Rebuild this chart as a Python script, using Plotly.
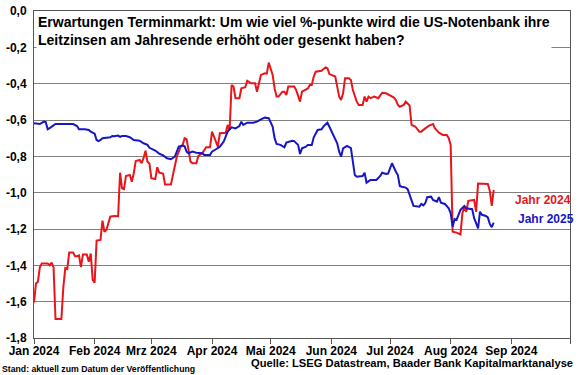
import plotly.graph_objects as go

# ---------------- data ----------------
dates_2024 = [
    "2024-01-01","2024-01-02","2024-01-03","2024-01-04","2024-01-05","2024-01-08","2024-01-09","2024-01-10",
    "2024-01-11","2024-01-12","2024-01-15","2024-01-16","2024-01-17","2024-01-18","2024-01-19","2024-01-21",
    "2024-01-22","2024-01-23","2024-01-24","2024-01-25","2024-01-26","2024-01-28","2024-01-29","2024-01-30",
    "2024-01-31","2024-02-01","2024-02-02","2024-02-04","2024-02-05","2024-02-06","2024-02-07","2024-02-09",
    "2024-02-11","2024-02-13","2024-02-14","2024-02-15","2024-02-16","2024-02-17","2024-02-19","2024-02-20",
    "2024-02-21","2024-02-22","2024-02-24","2024-02-25","2024-02-26","2024-02-27","2024-02-28","2024-02-29",
    "2024-03-01","2024-03-03","2024-03-04","2024-03-05","2024-03-07","2024-03-08","2024-03-11","2024-03-12",
    "2024-03-13","2024-03-14","2024-03-16","2024-03-17","2024-03-18","2024-03-19","2024-03-20","2024-03-21",
    "2024-03-22","2024-03-24","2024-03-25","2024-03-27","2024-03-29","2024-03-31","2024-04-01","2024-04-02",
    "2024-04-03","2024-04-04","2024-04-05","2024-04-08","2024-04-09","2024-04-10","2024-04-11","2024-04-12",
    "2024-04-13","2024-04-15","2024-04-16","2024-04-18","2024-04-19","2024-04-21","2024-04-23","2024-04-24",
    "2024-04-25","2024-04-26","2024-04-28","2024-04-29","2024-04-30","2024-05-02","2024-05-03","2024-05-04",
    "2024-05-05","2024-05-07","2024-05-08","2024-05-09","2024-05-10","2024-05-13","2024-05-14","2024-05-16",
    "2024-05-17","2024-05-19","2024-05-20","2024-05-21","2024-05-22","2024-05-23","2024-05-24","2024-05-27",
    "2024-05-29","2024-05-30","2024-05-31","2024-06-01","2024-06-03","2024-06-04","2024-06-05","2024-06-06",
    "2024-06-07","2024-06-08","2024-06-10","2024-06-11","2024-06-12","2024-06-14","2024-06-15","2024-06-17",
    "2024-06-18","2024-06-19","2024-06-20","2024-06-21","2024-06-23","2024-06-25","2024-06-27","2024-06-29",
    "2024-06-30","2024-07-03","2024-07-04","2024-07-05","2024-07-06","2024-07-08","2024-07-09","2024-07-11",
    "2024-07-12","2024-07-14","2024-07-16","2024-07-17","2024-07-19","2024-07-21","2024-07-23","2024-07-24",
    "2024-07-26","2024-07-28","2024-07-30","2024-07-31","2024-08-01","2024-08-02","2024-08-04","2024-08-06",
    "2024-08-07","2024-08-08","2024-08-09","2024-08-10","2024-08-13","2024-08-14","2024-08-15","2024-08-18",
    "2024-08-20","2024-08-21","2024-08-22","2024-08-23",
]
values_2024 = [
    -1.605,-1.50,-1.49,-1.41,-1.39,-1.39,-1.40,-1.385,
    -1.41,-1.695,-1.695,-1.52,-1.415,-1.42,-1.33,-1.33,
    -1.35,-1.35,-1.345,-1.41,-1.34,-1.34,-1.38,-1.335,
    -1.48,-1.495,-1.264,-1.26,-1.154,-1.215,-1.205,-1.132,
    -1.128,-1.13,-0.89,-0.976,-0.98,-0.908,-0.903,-0.94,
    -0.893,-0.826,-0.82,-0.838,-0.81,-0.769,-0.83,-0.84,
    -0.92,-0.925,-0.86,-0.89,-0.895,-0.955,-0.955,-0.903,
    -0.848,-0.802,-0.747,-0.737,-0.70,-0.705,-0.765,-0.829,
    -0.838,-0.838,-0.798,-0.783,-0.75,-0.75,-0.664,-0.692,
    -0.728,-0.747,-0.673,-0.67,-0.627,-0.655,-0.407,-0.416,
    -0.48,-0.48,-0.426,-0.42,-0.384,-0.398,-0.398,-0.444,
    -0.398,-0.352,-0.343,-0.345,-0.284,-0.352,-0.426,-0.471,
    -0.471,-0.444,-0.444,-0.462,-0.416,-0.416,-0.435,-0.499,
    -0.444,-0.431,-0.426,-0.407,-0.407,-0.361,-0.334,-0.329,
    -0.31,-0.315,-0.347,-0.352,-0.361,-0.416,-0.471,-0.49,
    -0.453,-0.37,-0.37,-0.38,-0.435,-0.499,-0.517,-0.517,
    -0.471,-0.499,-0.471,-0.48,-0.471,-0.48,-0.45,-0.453,
    -0.459,-0.477,-0.49,-0.517,-0.527,-0.517,-0.499,-0.52,
    -0.627,-0.637,-0.664,-0.664,-0.646,-0.631,-0.622,-0.646,
    -0.67,-0.682,-0.682,-0.70,-0.737,-1.215,-1.22,-1.23,
    -1.113,-1.08,-1.105,-1.045,-1.04,-1.105,-0.95,-0.952,
    -0.952,-0.99,-1.073,-0.985,
]

dates_2025 = [
    "2024-01-01","2024-01-04","2024-01-06","2024-01-07","2024-01-08","2024-01-09","2024-01-12","2024-01-16",
    "2024-01-19","2024-01-21","2024-01-23","2024-01-24","2024-01-27","2024-01-29","2024-01-30","2024-02-01",
    "2024-02-02","2024-02-03","2024-02-04","2024-02-05","2024-02-09","2024-02-10","2024-02-11","2024-02-13",
    "2024-02-14","2024-02-15","2024-02-17","2024-02-19","2024-02-21","2024-02-23","2024-02-24","2024-02-26",
    "2024-02-28","2024-02-29","2024-03-02","2024-03-03","2024-03-05","2024-03-07","2024-03-09","2024-03-11",
    "2024-03-13","2024-03-14","2024-03-15","2024-03-17","2024-03-18","2024-03-19","2024-03-20","2024-03-22",
    "2024-03-24","2024-03-27","2024-03-28","2024-03-31","2024-04-01","2024-04-03","2024-04-05","2024-04-07",
    "2024-04-08","2024-04-09","2024-04-11","2024-04-13","2024-04-15","2024-04-16","2024-04-17","2024-04-19",
    "2024-04-22","2024-04-24","2024-04-26","2024-04-28","2024-04-30","2024-05-02","2024-05-03","2024-05-04",
    "2024-05-06","2024-05-08","2024-05-09","2024-05-12","2024-05-13","2024-05-15","2024-05-16","2024-05-17",
    "2024-05-19","2024-05-20","2024-05-22","2024-05-23","2024-05-25","2024-05-27","2024-05-28","2024-05-30",
    "2024-05-31","2024-06-02","2024-06-04","2024-06-05","2024-06-06","2024-06-07","2024-06-09","2024-06-11",
    "2024-06-12","2024-06-13","2024-06-14","2024-06-17","2024-06-18","2024-06-19","2024-06-21","2024-06-24",
    "2024-06-26","2024-06-27","2024-06-29","2024-06-30","2024-07-02","2024-07-03","2024-07-04","2024-07-05",
    "2024-07-06","2024-07-07","2024-07-09","2024-07-10","2024-07-12","2024-07-13","2024-07-16","2024-07-17",
    "2024-07-18","2024-07-19","2024-07-20","2024-07-22","2024-07-23","2024-07-25","2024-07-26","2024-07-27",
    "2024-07-29","2024-07-31","2024-08-01","2024-08-02","2024-08-03","2024-08-04","2024-08-05","2024-08-06",
    "2024-08-08","2024-08-09","2024-08-12","2024-08-13","2024-08-14","2024-08-15","2024-08-16","2024-08-17",
    "2024-08-19","2024-08-20","2024-08-21","2024-08-22","2024-08-23",
]
values_2025 = [
    -0.618,-0.622,-0.609,-0.612,-0.651,-0.645,-0.622,-0.622,
    -0.618,-0.622,-0.633,-0.651,-0.651,-0.655,-0.664,-0.675,
    -0.71,-0.716,-0.71,-0.70,-0.695,-0.688,-0.69,-0.686,
    -0.693,-0.688,-0.688,-0.695,-0.71,-0.714,-0.714,-0.728,
    -0.737,-0.753,-0.765,-0.768,-0.785,-0.795,-0.811,-0.816,
    -0.802,-0.774,-0.747,-0.741,-0.745,-0.774,-0.783,-0.774,
    -0.78,-0.783,-0.792,-0.792,-0.774,-0.761,-0.747,-0.719,
    -0.688,-0.664,-0.64,-0.646,-0.633,-0.609,-0.627,-0.615,
    -0.615,-0.609,-0.596,-0.587,-0.59,-0.637,-0.70,-0.732,
    -0.737,-0.75,-0.724,-0.714,-0.716,-0.737,-0.787,-0.756,
    -0.747,-0.737,-0.737,-0.695,-0.655,-0.651,-0.635,-0.615,
    -0.637,-0.682,-0.728,-0.774,-0.802,-0.756,-0.743,-0.755,
    -0.82,-0.903,-0.912,-0.908,-0.89,-0.945,-0.93,-0.93,
    -0.908,-0.89,-0.897,-0.895,-0.838,-0.866,-0.885,-0.903,
    -0.963,-0.967,-0.972,-0.981,-1.05,-1.073,-1.077,-1.062,
    -1.07,-1.058,-1.025,-1.022,-1.04,-1.05,-1.025,-1.055,
    -1.062,-1.086,-1.113,-1.187,-1.146,-1.15,-1.122,-1.095,
    -1.073,-1.086,-1.091,-1.14,-1.168,-1.196,-1.105,-1.122,
    -1.128,-1.136,-1.172,-1.19,-1.165,
]

series_names = ["Jahr 2024", "Jahr 2025"]
month_ticks = ["2024-01-01","2024-02-01","2024-03-01","2024-04-01","2024-05-01",
               "2024-06-01","2024-07-01","2024-08-01","2024-09-01","2024-10-01"]
month_labels = ["Jan 2024","Feb 2024","Mrz 2024","Apr 2024","Mai 2024",
                "Jun 2024","Jul 2024","Aug 2024","Sep 2024",""]
y_ticks = [0.0, -0.2, -0.4, -0.6, -0.8, -1.0, -1.2, -1.4, -1.6, -1.8]
y_labels = ["0,0","-0,2","-0,4","-0,6","-0,8","-1,0","-1,2","-1,4","-1,6","-1,8"]

title_text = ("Erwartungen Terminmarkt: Um wie viel %-punkte wird die US-Notenbank ihre<br>"
              "Leitzinsen am Jahresende erhöht oder gesenkt haben?")
source_text = "Quelle: LSEG Datastream, Baader Bank Kapitalmarktanalyse"
stand_text = "Stand: aktuell zum Datum der Veröffentlichung"

RED = "#E8161B"
BLUE = "#1616C4"
FONT = "Arial, 'Liberation Sans', sans-serif"

fig = go.Figure()
fig.add_trace(go.Scatter(x=dates_2024, y=values_2024, mode="lines", name=series_names[0],
                         line=dict(color=RED, width=2)))
fig.add_trace(go.Scatter(x=dates_2025, y=values_2025, mode="lines", name=series_names[1],
                         line=dict(color=BLUE, width=2)))

fig.update_layout(
    width=580, height=375,
    margin=dict(l=34, r=10, t=11, b=37, autoexpand=False),
    paper_bgcolor="white", plot_bgcolor="white",
    showlegend=False,
    font=dict(family=FONT, color="black", size=11),
)
fig.update_xaxes(
    type="date", range=["2024-01-01", "2024-10-01"], automargin=False,
    tickmode="array", tickvals=month_ticks, ticktext=month_labels,
    ticks="outside", ticklen=5, tickcolor="#555555",
    showgrid=False, showline=True, linecolor="#555555", linewidth=1, mirror=True,
    ticklabelstandoff=-3,
    tickfont=dict(family=FONT, size=12, color="black", weight="bold"),
)
fig.update_yaxes(
    range=[-1.8, 0.0], automargin=False, tickmode="array", tickvals=y_ticks, ticktext=y_labels,
    showgrid=True, gridcolor="#808080", gridwidth=1,
    showline=True, linecolor="#555555", linewidth=1, mirror=True,
    ticks="", ticklabelstandoff=4,
    tickfont=dict(family=FONT, size=12, color="black", weight="bold"),
    zeroline=False,
)

# title box inside plot area
fig.add_annotation(xref="paper", yref="paper", x=0.003, y=0.997, xanchor="left", yanchor="top",
                   text=title_text, showarrow=False, align="left", bgcolor="white",
                   font=dict(family=FONT, size=14, color="black", weight="bold"))
fig.add_annotation(xref="paper", yref="y", x=1.006, y=-1.04, xanchor="right", yanchor="middle",
                   text=series_names[0], showarrow=False,
                   font=dict(family=FONT, size=12, color=RED, weight="bold"))
fig.add_annotation(xref="paper", yref="y", x=1.012, y=-1.145, xanchor="right", yanchor="middle",
                   text=series_names[1], showarrow=False,
                   font=dict(family=FONT, size=12, color=BLUE, weight="bold"))
fig.add_annotation(xref="paper", yref="paper", x=1.01, y=-0.076, xanchor="right", yanchor="middle",
                   text=source_text, showarrow=False,
                   font=dict(family=FONT, size=11.2, color="black", weight="bold"))
fig.add_annotation(xref="paper", yref="paper", x=-0.064, y=-0.094, xanchor="left", yanchor="middle",
                   text=stand_text, showarrow=False,
                   font=dict(family=FONT, size=8.7, color="black", weight="bold"))

fig.write_html("out.html", config={"displayModeBar": False},
               post_script="document.body.style.margin='0';document.body.style.overflow='hidden';")
